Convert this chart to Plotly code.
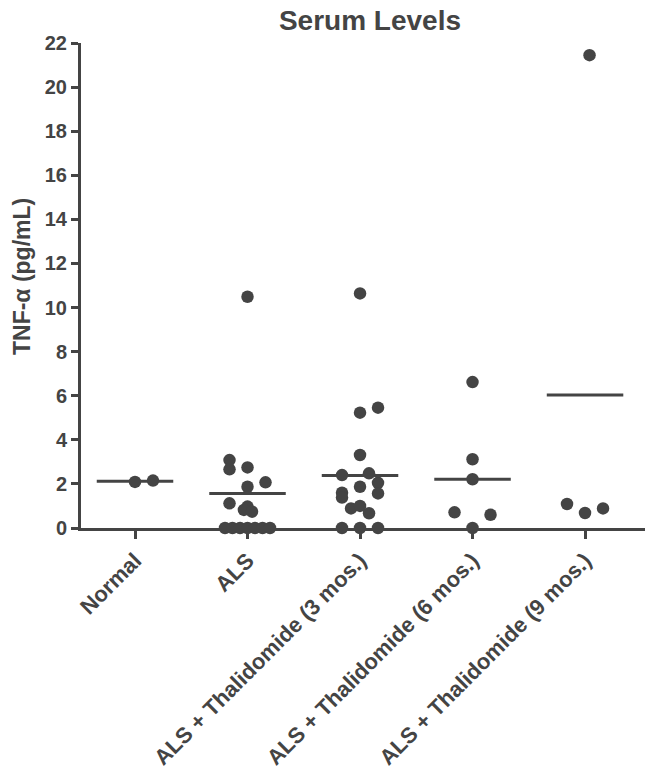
import numpy as np
import plotly.graph_objects as go

categories = ["Normal", "ALS", "ALS + Thalidomide (3 mos.)",
              "ALS + Thalidomide (6 mos.)", "ALS + Thalidomide (9 mos.)"]

normal_vals = [2.09, 2.15]
als_vals = [10.49, 3.08, 2.66, 2.75, 2.07, 1.87, 1.12, 0.97, 0.82, 0.74,
            0, 0, 0, 0, 0, 0, 0]
thal3_vals = [10.64, 5.23, 5.46, 3.31, 2.40, 2.48, 2.05, 1.87, 1.57, 1.60,
              1.38, 0.89, 1.00, 0.67, 0, 0, 0]
thal6_vals = [6.62, 3.12, 2.21, 0.71, 0.60, 0]
thal9_vals = [21.45, 1.09, 0.68, 0.89]

# horizontal column slot of each dot in the scatter (dot-plot swarm layout)
normal_slots = [0, 2]
als_slots = [0, -2, -2, 0, 2, 0, -2, 0, -0.4, 0.5,
             -2.5, -1.67, -0.83, 0, 0.83, 1.67, 2.5]
thal3_slots = [0, 0, 2, 0, -2, 1, 2, 0, 2, -2, -2, -1, 0, 1, -2, 0, 2]
thal6_slots = [0, 0, 0, -2, 2, 0]
thal9_slots = [0.5, -2, 0, 2]

groups = [normal_vals, als_vals, thal3_vals, thal6_vals, thal9_vals]
slots = [normal_slots, als_slots, thal3_slots, thal6_slots, thal9_slots]

SLOT = 0.08
HALF = 0.34
C = "#444444"

fig = go.Figure()

xs, ys = [], []
for i, (vals, sl) in enumerate(zip(groups, slots)):
    for v, s in zip(vals, sl):
        xs.append(i + s * SLOT)
        ys.append(v)

fig.add_trace(go.Scatter(x=xs, y=ys, mode="markers",
                         marker=dict(size=12.5, color=C, line=dict(width=0)),
                         cliponaxis=False, showlegend=False, hoverinfo="y"))

lx, ly = [], []
for i, vals in enumerate(groups):
    m = float(np.mean(vals))
    lx += [i - HALF, i + HALF, None]
    ly += [m, m, None]
fig.add_trace(go.Scatter(x=lx, y=ly, mode="lines",
                         line=dict(color=C, width=3),
                         cliponaxis=False, showlegend=False, hoverinfo="skip"))

font_family = "Liberation Sans, Arial, sans-serif"

fig.update_layout(
    width=654, height=778,
    margin=dict(l=81, r=9, t=43, b=250),
    paper_bgcolor="white", plot_bgcolor="white",
    font=dict(family=font_family, color=C),
    title=dict(text="<b>Serum Levels</b>", x=370/654, xanchor="center",
               xref="container", y=1 - 20/778, yanchor="middle",
               yref="container", font=dict(size=28, color=C)),
    xaxis=dict(range=[-0.48, 4.533], tickvals=list(range(5)),
               ticktext=["<b>%s</b>" % c for c in categories],
               tickangle=-45, tickfont=dict(size=22, color=C),
               showline=True, linecolor=C, linewidth=3,
               ticks="outside", ticklen=8, tickwidth=3, tickcolor=C,
               showgrid=False, zeroline=False, automargin=False),
    yaxis=dict(range=[0, 22], tickvals=list(range(0, 23, 2)),
               ticktext=["<b>%d</b>" % v for v in range(0, 23, 2)],
               tickfont=dict(size=20, color=C),
               showline=True, linecolor=C, linewidth=3,
               ticks="outside", ticklen=7, tickwidth=3, tickcolor=C,
               showgrid=False, zeroline=False, automargin=False),
    annotations=[dict(text="<b>TNF-α (pg/mL)</b>", textangle=-90,
                      x=(22 - 81) / 564, xref="paper", y=(528 - 277) / 485,
                      yref="paper", xanchor="center", yanchor="middle",
                      showarrow=False, font=dict(size=23, color=C))],
)

fig.write_html("out.html",
               config={"displayModeBar": False},
               post_script="document.body.style.margin='0';"
                           "document.body.style.overflow='hidden';")
